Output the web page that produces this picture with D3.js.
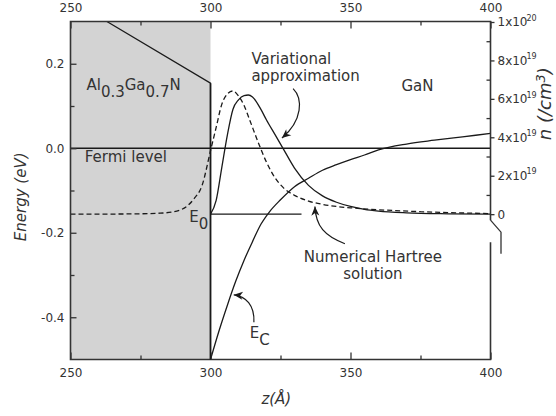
<!DOCTYPE html>
<html>
<head>
<meta charset="utf-8">
<script src="https://cdn.jsdelivr.net/npm/d3@7"></script>
<style>
  html, body { margin: 0; padding: 0; background: #fff; }
  svg { display: block; font-family: "DejaVu Sans", Verdana, sans-serif; }
</style>
</head>
<body>
<svg id="chart" width="556" height="416"></svg>
<script>
// Position along growth direction (Å) and axis ranges
const zTicks = [250, 300, 350, 400];
const zMinorTicks = [275, 325, 375];
const energyTicks = [-0.4, -0.2, 0.0, 0.2];
const energyMinorTicks = [-0.3, -0.1, 0.1];
const densityTicks = [0, 2e19, 4e19, 6e19, 8e19, 1e20];
const densityMinorTicks = [1e19, 3e19, 5e19, 7e19, 9e19];
const densityTickLabels = [["0", ""], ["2x10", "19"], ["4x10", "19"], ["6x10", "19"], ["8x10", "19"], ["1x10", "20"]];

// Heterointerface and ground-state subband
const interfaceZ = 300;
const fermiLevel = 0.0;
const subbandE0 = -0.156;
const subbandEndZ = 332.5;

// Conduction band edge in the AlGaN barrier (linear) and in GaN
const barrierZ = [263, 300];
const barrierE = [0.30, 0.154];
const wellZ = [300, 303, 306, 309, 312, 315, 318, 321, 325, 330, 335, 340, 345, 350, 355, 360, 370, 380, 390, 400];
const wellE = [-0.50, -0.433, -0.372, -0.315, -0.265, -0.221, -0.180, -0.151, -0.122, -0.091, -0.071, -0.052, -0.039, -0.027, -0.016, -0.004, 0.010, 0.019, 0.027, 0.035];

// Electron density, numerical Hartree solution (units of 1e19 cm^-3)
const hartreeZ = [250, 270, 282, 289, 294, 297, 300, 302, 304, 306, 308, 310, 312, 314, 317, 320, 323, 326, 330, 335, 340, 345, 350, 360, 375, 400];
const hartreeN = [0, 0.01, 0.05, 0.21, 0.78, 1.5, 3.3, 4.5, 5.7, 6.25, 6.41, 6.15, 5.65, 4.9, 3.75, 2.7, 1.9, 1.38, 0.98, 0.68, 0.51, 0.40, 0.33, 0.23, 0.13, 0.03];

// Electron density, variational approximation (units of 1e19 cm^-3)
const variationalZ = [300, 302, 304, 306, 308, 310, 312, 313.5, 315, 318, 320, 323, 326, 330, 335, 340, 345, 350, 355, 360, 370, 385, 400];
const variationalN = [0, 0.7, 2.4, 4.1, 5.45, 5.95, 6.17, 6.2, 6.1, 5.45, 4.9, 4.15, 3.4, 2.4, 1.5, 0.95, 0.62, 0.40, 0.25, 0.16, 0.07, 0.02, 0];

const svg = d3.select("#chart");
const X0 = 70.5, X1 = 490.5, Y0 = 21.5, Y1 = 359.5;
const ink = "#1a1a1a", axisInk = "#333", textInk = "#333";

const x = d3.scaleLinear().domain([250, 400]).range([X0, X1]);
const yE = d3.scaleLinear().domain([-0.5, 0.3]).range([Y1, Y0]);
const yN = d3.scaleLinear().domain([0, 1e20]).range([yE(subbandE0), Y0 + 0.5]);
const P = (z, e) => [x(z), yE(e)];

// Arrowhead marker
svg.append("defs").append("marker")
  .attr("id", "arrowhead")
  .attr("viewBox", "-10 -5 11 10")
  .attr("refX", 0).attr("refY", 0)
  .attr("markerUnits", "userSpaceOnUse")
  .attr("markerWidth", 11).attr("markerHeight", 10)
  .attr("orient", "auto")
  .append("path")
  .attr("d", "M0,0 L-9,-4 L-6.5,0 L-9,4 Z")
  .attr("fill", ink);

// AlGaN barrier region
svg.append("rect")
  .attr("x", x(250)).attr("y", yE(0.3))
  .attr("width", x(interfaceZ) - x(250))
  .attr("height", yE(-0.5) - yE(0.3))
  .attr("fill", "#d3d3d3");

const plot = svg.append("g").attr("fill", "none").attr("stroke", ink).attr("stroke-width", 1.3);

// Fermi level
plot.append("line")
  .attr("x1", x(250)).attr("x2", x(400))
  .attr("y1", yE(fermiLevel)).attr("y2", yE(fermiLevel));

// Ground subband E0
plot.append("line")
  .attr("x1", x(interfaceZ)).attr("x2", x(subbandEndZ))
  .attr("y1", yE(subbandE0)).attr("y2", yE(subbandE0));

// Conduction band edge: barrier slope and the step at the interface
const lineE = d3.line().x(d => x(d[0])).y(d => yE(d[1]));
plot.append("path")
  .attr("d", lineE([[barrierZ[0], barrierE[0]], [barrierZ[1], barrierE[1]], [interfaceZ, wellE[0]]]));
plot.append("path")
  .attr("d", lineE.curve(d3.curveMonotoneX)(wellZ.map((z, i) => [z, wellE[i]])));

// Electron densities on the right-hand axis
const lineN = d3.line().x(d => x(d[0])).y(d => yN(d[1] * 1e19)).curve(d3.curveMonotoneX);
plot.append("path")
  .attr("stroke-dasharray", "5,3")
  .attr("d", lineN(hartreeZ.map((z, i) => [z, hartreeN[i]])));
plot.append("path")
  .attr("d", lineN(variationalZ.map((z, i) => [z, variationalN[i]])));

// Curved pointer arrows (control points in data units)
function arrow(pts) {
  const p = pts.map(d => P(d[0], d[1]));
  plot.append("path")
    .attr("stroke-width", 1.2)
    .attr("marker-end", "url(#arrowhead)")
    .attr("d", `M${p[0]} C${p[1]} ${p[2]} ${p[3]}`);
}
arrow([[329.5, 0.141], [333.0, 0.118], [333.0, 0.066], [325.5, 0.024]]);
arrow([[348.0, -0.226], [340.8, -0.208], [337.6, -0.185], [337.3, -0.138]]);
arrow([[315.5, -0.412], [315.8, -0.372], [312.6, -0.350], [308.3, -0.347]]);

// Axes
const axes = svg.append("g").attr("font-family", "DejaVu Sans, sans-serif");

function styleAxis(g) {
  g.select(".domain").remove();
  g.selectAll(".tick line").attr("stroke", axisInk).attr("stroke-width", 1.3);
  g.selectAll(".tick text").attr("fill", textInk).attr("font-size", 12).attr("font-family", "DejaVu Sans, sans-serif");
}

// Bottom and top z axes (ticks point inward)
axes.append("g").attr("transform", `translate(0,${Y1})`)
  .call(d3.axisBottom(x).tickValues(zTicks).tickSize(-7).tickPadding(9).tickFormat(d3.format("d")))
  .call(styleAxis);
axes.append("g").attr("transform", `translate(0,${Y1})`)
  .call(d3.axisBottom(x).tickValues(zMinorTicks).tickSize(-4).tickFormat(""))
  .call(styleAxis);
axes.append("g").attr("transform", `translate(0,${Y0})`)
  .call(d3.axisTop(x).tickValues(zTicks).tickSize(-7).tickPadding(10).tickFormat(d3.format("d")))
  .call(styleAxis);
axes.append("g").attr("transform", `translate(0,${Y0})`)
  .call(d3.axisTop(x).tickValues(zMinorTicks).tickSize(-4).tickFormat(""))
  .call(styleAxis);

// Left energy axis
axes.append("g").attr("transform", `translate(${X0},0)`)
  .call(d3.axisLeft(yE).tickValues(energyTicks).tickSize(-6).tickPadding(6).tickFormat(d => d.toFixed(1)))
  .call(styleAxis);
axes.append("g").attr("transform", `translate(${X0},0)`)
  .call(d3.axisLeft(yE).tickValues(energyMinorTicks).tickSize(-4).tickFormat(""))
  .call(styleAxis);

// Right density axis: major ticks outward, minor inward
const rightAxis = axes.append("g").attr("transform", `translate(${X1},0)`)
  .call(d3.axisRight(yN).tickValues(densityTicks).tickSize(4).tickPadding(3).tickFormat(""))
  .call(styleAxis);
rightAxis.selectAll(".tick text").each(function(d, i) {
  const t = d3.select(this).text(null);
  const lbl = densityTickLabels[i];
  t.append("tspan").text(lbl[0]);
  if (lbl[1]) t.append("tspan").attr("font-size", 8).attr("dy", "-0.7em").attr("dx", -1).text(lbl[1]);
});
axes.append("g").attr("transform", `translate(${X1},0)`)
  .call(d3.axisRight(yN).tickValues(densityMinorTicks).tickSize(-4).tickFormat(""))
  .call(styleAxis);

// Frame, with a break in the right-hand axis below the density zero
const yBreakTop = yN(0) + 6, yBreakJog = yBreakTop + 12, yBreakEnd = yBreakJog + 21.5, yFrameResume = yBreakTop + 22;
const frame = svg.append("g").attr("fill", "none").attr("stroke", axisInk).attr("stroke-width", 1.6);
frame.append("path").attr("d", `M${X1},${yBreakTop} L${X1},${Y0} L${X0},${Y0} L${X0},${Y1} L${X1},${Y1} L${X1},${yFrameResume}`);
frame.append("path").attr("stroke-width", 1.3)
  .attr("d", `M${X1},${yBreakTop} L${X1 + 10.5},${yBreakJog} L${X1 + 10.5},${yBreakEnd}`);
frame.append("line").attr("stroke-width", 1.6)
  .attr("x1", x(interfaceZ)).attr("x2", x(interfaceZ)).attr("y1", yE(barrierE[1])).attr("y2", Y1)
  .attr("stroke", ink);

// Text annotations
const labels = svg.append("g").attr("fill", textInk).attr("font-size", 15);

function subLabel(z, e, parts) {
  const t = labels.append("text").attr("x", x(z)).attr("y", yE(e));
  parts.forEach(([s, dy]) => t.append("tspan").attr("dy", dy).text(s));
}
subLabel(255.7, 0.139, [["Al", 0], ["0.3", 7], ["Ga", -7], ["0.7", 7], ["N", -7]]);
labels.append("text").attr("x", x(368.2)).attr("y", yE(0.135)).text("GaN");
labels.append("text").attr("x", x(314.6)).attr("y", yE(0.200)).text("Variational");
labels.append("text").attr("x", x(314.6)).attr("y", yE(0.160)).text("approximation");
labels.append("text").attr("x", x(255.1)).attr("y", yE(-0.032)).text("Fermi level");
subLabel(292.4, -0.174, [["E", 0], ["0", 7]]);
subLabel(314.0, -0.450, [["E", 0], ["C", 7]]);
labels.append("text").attr("x", x(358)).attr("y", yE(-0.270)).attr("text-anchor", "middle").text("Numerical Hartree");
labels.append("text").attr("x", x(358)).attr("y", yE(-0.310)).attr("text-anchor", "middle").text("solution");

// Axis titles
labels.append("text")
  .attr("transform", `translate(26,${yE(-0.115)}) rotate(-90)`)
  .attr("text-anchor", "middle").attr("font-style", "italic")
  .text("Energy (eV)");
const nTitle = labels.append("text")
  .attr("transform", `translate(551,${yN(3.85e19)}) rotate(-90)`)
  .attr("font-style", "italic").attr("font-size", 18);
nTitle.append("tspan").text("n (/cm");
nTitle.append("tspan").attr("font-size", 13).attr("dy", -6).text("3");
nTitle.append("tspan").attr("dy", 6).text(")");
labels.append("text")
  .attr("x", x(323.5)).attr("y", 404)
  .attr("text-anchor", "middle").attr("font-style", "italic")
  .text("z(Å)");
</script>
</body>
</html>
